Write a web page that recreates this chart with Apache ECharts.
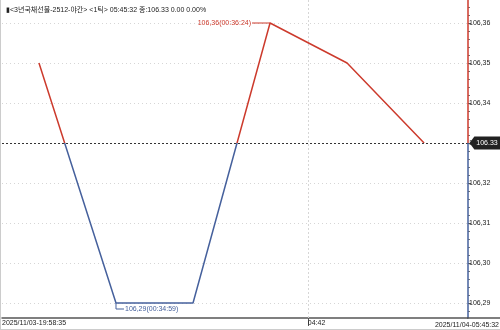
<!DOCTYPE html>
<html><head><meta charset="utf-8">
<script src="https://cdn.jsdelivr.net/npm/echarts@6/dist/echarts.min.js"></script>
<style>html,body{margin:0;padding:0;background:#fff}#c{width:500px;height:330px}</style>
</head><body><div id="c"></div>
<script>
// ---- data ----
const titleText = '▮<3년국채선물-2512-야간> <1틱> 05:45:32 종:106.33 0.00 0.00%';
const pointIndex = [0, 1, 2, 3, 4, 5];
const prices = [106.35, 106.29, 106.29, 106.36, 106.35, 106.33];
const lastPrice = 106.33;
const xTickPos = [-0.48, 3.49];
const xTickLabels = ['2025/11/03-19:58:35', '04:42'];
const endTimeLabel = '2025/11/04-05:45:32';
const annotations = [
  [3, 106.36, '106,36(00:36:24)', 'left'],
  [1, 106.29, '106,29(00:34:59)', 'right']
];
const xMin = -0.48, xMax = 5.57;
const yMin = 106.28, yMax = 106.37, yStep = 0.01;
const yVisibleBottom = 106.28625;

const RED = '#cc3a2c', BLUE = '#45609c';
const FONT = '"Liberation Sans", "Noto Sans CJK KR", sans-serif';
const fmt = v => v.toFixed(2).replace('.', ',');

const pMax = Math.max(...prices), pMin = Math.min(...prices);
const splitOff = (pMax - lastPrice) / (pMax - pMin);

const chart = echarts.init(document.getElementById('c'));
chart.setOption({
  animation: false,
  textStyle: { fontFamily: FONT },
  title: { text: titleText, left: 1, top: 2, textStyle: { fontSize: 7, fontWeight: 'normal', color: '#222', fontFamily: FONT } },
  grid: { left: 2, right: 32, top: -17, bottom: -13, containLabel: false, outerBoundsMode: 'none' },
  xAxis: {
    type: 'value', min: xMin, max: xMax, offset: -25,
    axisLine: { onZero: false, lineStyle: { color: '#555', width: 1.5 } },
    axisTick: { show: true, customValues: [xTickPos[1]], length: 8, lineStyle: { color: '#555' } },
    axisLabel: {
      customValues: xTickPos, fontSize: 7, color: '#222', margin: 2, align: 'left',
      formatter: v => xTickLabels[xTickPos.indexOf(v)] || ''
    },
    splitLine: { show: false }
  },
  yAxis: {
    type: 'value', position: 'right', min: yMin, max: yMax, interval: yStep,
    axisLine: { show: false, onZero: false },
    axisTick: { show: true, length: 3, lineStyle: { color: '#555' } },
    minorTick: { show: true, splitNumber: 5, length: 2, lineStyle: { color: '#777' } },
    axisLabel: { fontSize: 7, color: '#222', margin: 1, formatter: v => fmt(v) },
    splitLine: { show: true, lineStyle: { color: '#d6d6d6', type: [1, 3], width: 1 } }
  },
  graphic: [
    { type: 'line', shape: { x1: 467, y1: 318, x2: 500, y2: 318 }, style: { stroke: '#555', lineWidth: 1.5 }, z: 10 },
    { type: 'rect', shape: { x: 462, y: 319, width: 38, height: 10 }, style: { fill: '#fff' }, z: 10 },
    { type: 'line', shape: { x1: 0, y1: 329.5, x2: 500, y2: 329.5 }, style: { stroke: '#ccc', lineWidth: 1 }, z: 10 },
    { type: 'line', shape: { x1: 0.5, y1: 0, x2: 0.5, y2: 330 }, style: { stroke: '#ccc', lineWidth: 1 }, z: 10 },
    { type: 'text', right: 1, bottom: 1, z: 11, style: { text: endTimeLabel, font: '7px ' + FONT, fill: '#222' } }
  ],
  series: [{
    type: 'line', data: pointIndex.map((x, i) => [x, prices[i]]),
    symbol: 'none', z: 5,
    lineStyle: { width: 1.5, color: new echarts.graphic.LinearGradient(0, 0, 0, 1, [
      { offset: 0, color: RED }, { offset: splitOff, color: RED },
      { offset: splitOff, color: BLUE }, { offset: 1, color: BLUE }]) }
  }, {
    type: 'line', data: [], silent: true,
    markLine: {
      symbol: ['none', 'none'], silent: true, label: { show: false },
      data: [
        [{ coord: [xTickPos[1], yVisibleBottom], lineStyle: { color: '#d6d6d6', type: [2, 2], width: 1 } }, { coord: [xTickPos[1], yMax] }],
        { yAxis: lastPrice, lineStyle: { color: '#333', type: [2, 2], width: 1 } },
        [{ coord: [xMax, lastPrice], lineStyle: { color: RED, type: 'solid', width: 1.5 } }, { coord: [xMax, yMax] }],
        [{ coord: [xMax, lastPrice], lineStyle: { color: BLUE, type: 'solid', width: 1.5 } }, { coord: [xMax, yVisibleBottom] }]
      ]
    }
  }, {
    type: 'line', data: [], silent: true,
    markPoint: {
      silent: true,
      data: [{
        coord: [xMax, lastPrice],
        symbol: 'path://M0,5 L5,0 L32,0 L32,10 L5,10 Z',
        symbolSize: [31, 13], symbolOffset: [17, 0],
        itemStyle: { color: '#222' },
        label: { show: true, formatter: lastPrice.toFixed(2), color: '#fff', fontSize: 7, offset: [2, 0], fontFamily: FONT }
      }]
    }
  }, {
    type: 'custom', data: annotations, silent: true, z: 6,
    renderItem: (params, api) => {
      const p = api.coord([api.value(0), api.value(1)]);
      const d = annotations[params.dataIndex];
      if (d[3] === 'left') {
        return { type: 'group', children: [
          { type: 'line', shape: { x1: p[0] - 18, y1: p[1], x2: p[0], y2: p[1] }, style: { stroke: RED, lineWidth: 1 } },
          { type: 'text', x: p[0] - 19, y: p[1], style: { text: d[2], fill: RED, font: '7px ' + FONT, align: 'right', verticalAlign: 'middle' } }
        ]};
      }
      return { type: 'group', children: [
        { type: 'polyline', shape: { points: [[p[0], p[1]], [p[0], p[1] + 6], [p[0] + 8, p[1] + 6]] }, style: { stroke: BLUE, lineWidth: 1, fill: null } },
        { type: 'text', x: p[0] + 9, y: p[1] + 6, style: { text: d[2], fill: BLUE, font: '7px ' + FONT, align: 'left', verticalAlign: 'middle' } }
      ]};
    }
  }]
});
</script></body></html>
